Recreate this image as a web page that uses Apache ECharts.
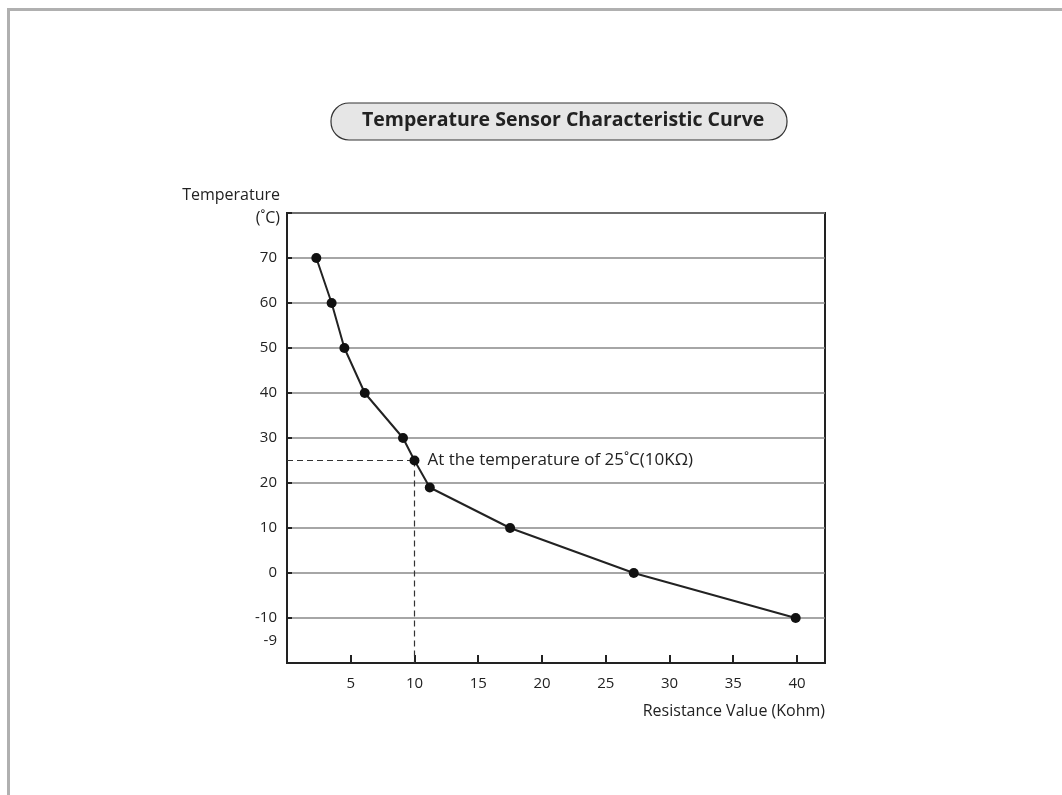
<!DOCTYPE html>
<html>
<head>
<meta charset="utf-8">
<script src="https://cdn.jsdelivr.net/npm/echarts@6/dist/echarts.min.js"></script>
<style>html,body{margin:0;padding:0;background:#fff}#c{width:1062px;height:795px}</style>
</head>
<body>
<div id="c"></div>
<script>
// ---- data ----
const resistance = [2.3, 3.5, 4.5, 6.1, 9.1, 10.0, 11.2, 17.5, 27.2, 39.9];
const temperature = [70, 60, 50, 40, 30, 25, 19, 10, 0, -10];
const xTickLabels = [5, 10, 15, 20, 25, 30, 35, 40];
const yTickLabels = [70, 60, 50, 40, 30, 20, 10, 0, -10];
const extraYLabelValue = -15;
const extraYLabelText = '-9';
const refPoint = [10, 25];
const annotationText = 'At the temperature of 25˚C(10KΩ)';
const titleText = 'Temperature Sensor Characteristic Curve';
const xName = 'Resistance Value (Kohm)';
const yName = 'Temperature\n(˚C)';

const FONT = 'Open Sans';
const points = resistance.map((x, i) => {
  const item = { value: [x, temperature[i]] };
  if (x === refPoint[0] && temperature[i] === refPoint[1]) {
    item.label = { show: true, position: 'right', distance: 8, formatter: annotationText,
      fontFamily: FONT, fontSize: 17, color: '#222' };
  }
  return item;
});

const chart = echarts.init(document.getElementById('c'), null, { renderer: 'canvas' });
chart.setOption({
  animation: false,
  backgroundColor: '#fff',
  textStyle: { fontFamily: FONT },
  graphic: [
    { type: 'rect', left: 6, top: 7, shape: { x: 0, y: 0, width: 1200, height: 900 },
      style: { fill: 'none', stroke: '#b0b0b0', lineWidth: 3 }, silent: true, z: 0 },
    { type: 'rect', shape: { x: 331, y: 103, width: 456, height: 37, r: 18 },
      style: { fill: '#e6e6e6', stroke: '#333', lineWidth: 1.2 }, silent: true, z: 0 }
  ],
  title: {
    text: titleText, left: 362, top: 110, padding: 0,
    textStyle: { fontFamily: FONT, fontSize: 19.5, fontWeight: 'bold', color: '#222' }, z: 10
  },
  grid: { left: 287, top: 213, right: 237, bottom: 132, show: true,
    borderColor: '#222', borderWidth: 2, backgroundColor: 'transparent' },
  xAxis: {
    type: 'value', min: 0, max: 42.2, interval: 5,
    name: xName, nameLocation: 'end', nameGap: 0,
    nameTextStyle: { fontFamily: FONT, fontSize: 16, color: '#222', align: 'right', verticalAlign: 'top', padding: [40, 0, 0, 0] },
    axisLine: { show: true, onZero: false, lineStyle: { color: '#222', width: 2 } },
    axisTick: { show: true, inside: true, length: 8, lineStyle: { color: '#222', width: 2 } },
    splitLine: { show: false },
    axisLabel: { showMaxLabel: false, showMinLabel: false, margin: 13, fontFamily: FONT, fontSize: 15, color: '#222',
      formatter: v => xTickLabels.includes(v) ? String(v) : '' }
  },
  yAxis: [{
    type: 'value', min: -20, max: 80, interval: 10,
    name: yName, nameLocation: 'end', nameGap: 6,
    nameTextStyle: { fontFamily: FONT, fontSize: 16, color: '#222', align: 'right', verticalAlign: 'middle', lineHeight: 23, padding: [0, 7, 0, 0] },
    axisLine: { show: true, onZero: false, lineStyle: { color: '#222', width: 2 } },
    axisTick: { show: true, inside: true, length: 5, lineStyle: { color: '#222', width: 2 } },
    splitLine: { show: true, lineStyle: { color: '#888', width: 1.5 } },
    axisLabel: { margin: 10, fontFamily: FONT, fontSize: 15, color: '#222',
      formatter: v => yTickLabels.includes(v) ? String(v) : '' }
  }, {
    type: 'value', min: -20, max: 80, interval: 5, position: 'left', offset: 0,
    axisLine: { show: false }, axisTick: { show: false }, splitLine: { show: false },
    axisLabel: { margin: 10, fontFamily: FONT, fontSize: 15, color: '#222',
      formatter: v => v === extraYLabelValue ? extraYLabelText : '' }
  }],
  series: [{
    type: 'line', data: points, yAxisIndex: 0,
    symbol: 'circle', symbolSize: 10,
    itemStyle: { color: '#111' },
    lineStyle: { color: '#222', width: 2 },
    z: 5,
    markLine: {
      silent: true, symbol: 'none', label: { show: false },
      lineStyle: { color: '#333', width: 1.2, type: [6, 4] },
      data: [
        [{ coord: [0, refPoint[1]] }, { coord: [refPoint[0], refPoint[1]] }],
        [{ coord: [refPoint[0], refPoint[1]] }, { coord: [refPoint[0], -20] }]
      ]
    }
  }]
});
</script>
</body>
</html>
